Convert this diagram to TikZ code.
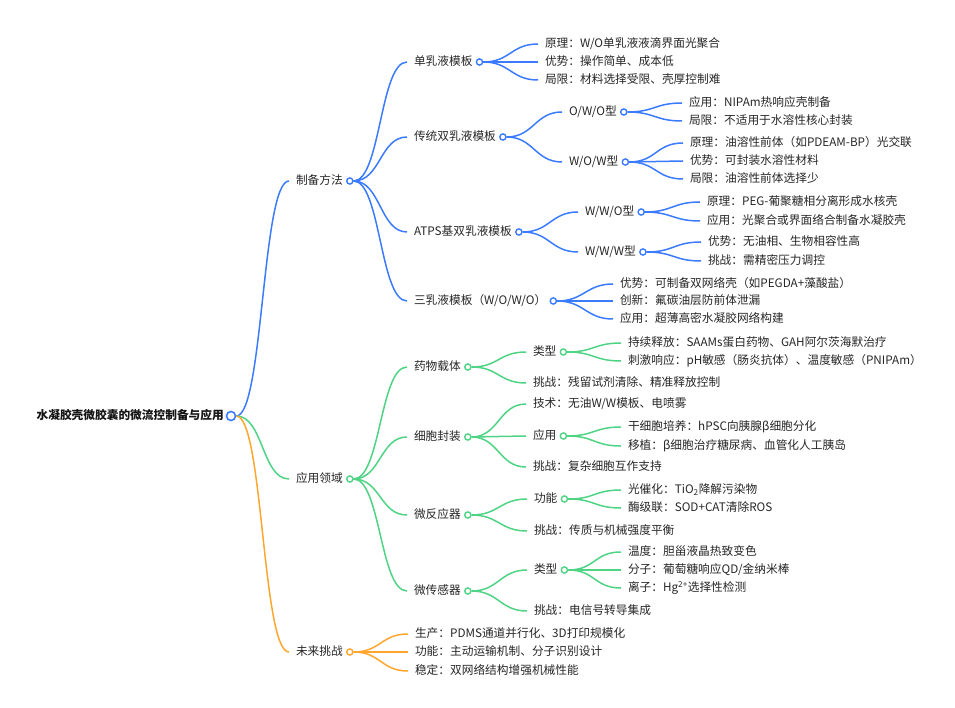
\documentclass[tikz,border=0pt]{standalone}
\usepackage{fontspec}
\setmainfont{Noto Sans CJK SC}
\usetikzlibrary{backgrounds}
\definecolor{cblue}{HTML}{3A7BFF}
\definecolor{cgreen}{HTML}{4FD384}
\definecolor{corange}{HTML}{FFA62E}
\definecolor{ctext}{HTML}{262626}
\begin{document}
\begin{tikzpicture}[x=1pt,y=-1pt,
  lbl/.style={anchor=west, xshift=-7pt, inner xsep=0pt, inner ysep=0pt, outer xsep=7pt, outer ysep=0pt,
    text height=0.88em, text depth=0.12em, font=\fontsize{11.7}{13}\selectfont, text=ctext},
  rootlbl/.style={anchor=east, inner sep=0pt, text height=0.88em, text depth=0.12em,
    font=\fontsize{11.7}{13}\selectfont\bfseries, text=black!92},
  dot/.style={circle, draw=#1, fill=white, line width=1.4pt, minimum size=6.2pt, inner sep=0pt},
  rootdot/.style={circle, draw=cblue, fill=white, line width=1.6pt, minimum size=9pt, inner sep=0pt},
  link/.style={line width=1.5pt, draw=#1, to path={.. controls +(27,0) and +(-27,0) .. (\tikztotarget)}}
]
\useasboundingbox (0,0) rectangle (955,708);
% root
\node[rootdot] (dR) at (231,416) {};
\node[rootlbl] (tR) at (224,416) {水凝胶壳微胶囊的微流控制备与应用};
% level 1
\node[lbl] (tA) at (296,181) {制备方法};
\node[lbl] (tB) at (296,479) {应用领域};
\node[lbl] (tC) at (296,652) {未来挑战};
\node[dot=cblue] (dA) at (tA.east) {};
\node[dot=cgreen] (dB) at (tB.east) {};
\node[dot=corange] (dC) at (tC.east) {};
% ---- 制备方法
\node[lbl] (tA1) at (414,62) {单乳液模板};
\node[lbl] (tA2) at (414,137) {传统双乳液模板};
\node[lbl] (tA3) at (414,232) {ATPS基双乳液模板};
\node[lbl] (tA4) at (414,301) {三乳液模板（W/O/W/O）};
\node[dot=cblue] (dA1) at (tA1.east) {};
\node[dot=cblue] (dA2) at (tA2.east) {};
\node[dot=cblue] (dA3) at (tA3.east) {};
\node[dot=cblue] (dA4) at (tA4.east) {};
\node[lbl] (tA1a) at (545,44) {原理：W/O单乳液液滴界面光聚合};
\node[lbl] (tA1b) at (545,62) {优势：操作简单、成本低};
\node[lbl] (tA1c) at (545,80) {局限：材料选择受限、壳厚控制难};
\node[lbl] (tA2a) at (569,112) {O/W/O型};
\node[lbl] (tA2b) at (569,162) {W/O/W型};
\node[dot=cblue] (dA2a) at (tA2a.east) {};
\node[dot=cblue] (dA2b) at (tA2b.east) {};
\node[lbl] (tA2a1) at (689,103) {应用：NIPAm热响应壳制备};
\node[lbl] (tA2a2) at (689,121) {局限：不适用于水溶性核心封装};
\node[lbl] (tA2b1) at (690,143) {原理：油溶性前体（如PDEAM-BP）光交联};
\node[lbl] (tA2b2) at (690,161) {优势：可封装水溶性材料};
\node[lbl] (tA2b3) at (690,179) {局限：油溶性前体选择少};
\node[lbl] (tA3a) at (585,212) {W/W/O型};
\node[lbl] (tA3b) at (585,252) {W/W/W型};
\node[dot=cblue] (dA3a) at (tA3a.east) {};
\node[dot=cblue] (dA3b) at (tA3b.east) {};
\node[lbl] (tA3a1) at (707,202) {原理：PEG-葡聚糖相分离形成水核壳};
\node[lbl] (tA3a2) at (707,221) {应用：光聚合或界面络合制备水凝胶壳};
\node[lbl] (tA3b1) at (708,242) {优势：无油相、生物相容性高};
\node[lbl] (tA3b2) at (708,261) {挑战：需精密压力调控};
\node[lbl] (tA4a) at (620,284) {优势：可制备双网络壳（如PEGDA+藻酸盐）};
\node[lbl] (tA4b) at (620,301) {创新：氟碳油层防前体泄漏};
\node[lbl] (tA4c) at (620,319) {应用：超薄高密水凝胶网络构建};
% ---- 应用领域
\node[lbl] (tB1) at (414,367) {药物载体};
\node[lbl] (tB2) at (414,437) {细胞封装};
\node[lbl] (tB3) at (414,515) {微反应器};
\node[lbl] (tB4) at (414,591) {微传感器};
\node[dot=cgreen] (dB1) at (tB1.east) {};
\node[dot=cgreen] (dB2) at (tB2.east) {};
\node[dot=cgreen] (dB3) at (tB3.east) {};
\node[dot=cgreen] (dB4) at (tB4.east) {};
\node[lbl] (tB1a) at (533,352) {类型};
\node[lbl] (tB1b) at (533,383) {挑战：残留试剂清除、精准释放控制};
\node[dot=cgreen] (dB1a) at (tB1a.east) {};
\node[lbl] (tB1a1) at (628,343) {持续释放：SAAMs蛋白药物、GAH阿尔茨海默治疗};
\node[lbl] (tB1a2) at (628,361) {刺激响应：pH敏感（肠炎抗体）、温度敏感（PNIPAm）};
\node[lbl] (tB2a) at (533,404) {技术：无油W/W模板、电喷雾};
\node[lbl] (tB2b) at (533,436) {应用};
\node[lbl] (tB2c) at (533,467) {挑战：复杂细胞互作支持};
\node[dot=cgreen] (dB2b) at (tB2b.east) {};
\node[lbl] (tB2b1) at (628,427) {干细胞培养：hPSC向胰腺β细胞分化};
\node[lbl] (tB2b2) at (628,446) {移植：β细胞治疗糖尿病、血管化人工胰岛};
\node[lbl] (tB3a) at (534,499) {功能};
\node[lbl] (tB3b) at (534,531) {挑战：传质与机械强度平衡};
\node[dot=cgreen] (dB3a) at (tB3a.east) {};
\node[lbl] (tB3a1) at (628,490) {光催化：TiO\textsubscript{2}降解污染物};
\node[lbl] (tB3a2) at (628,508) {酶级联：SOD+CAT清除ROS};
\node[lbl] (tB4a) at (534,570) {类型};
\node[lbl] (tB4b) at (534,611) {挑战：电信号转导集成};
\node[dot=cgreen] (dB4a) at (tB4a.east) {};
\node[lbl] (tB4a1) at (628,552) {温度：胆甾液晶热致变色};
\node[lbl] (tB4a2) at (628,570) {分子：葡萄糖响应QD/金纳米棒};
\node[lbl] (tB4a3) at (628,588) {离子：Hg\textsuperscript{2+}选择性检测};
% ---- 未来挑战
\node[lbl] (tC1) at (415,634) {生产：PDMS通道并行化、3D打印规模化};
\node[lbl] (tC2) at (415,652) {功能：主动运输机制、分子识别设计};
\node[lbl] (tC3) at (415,671) {稳定：双网络结构增强机械性能};
% ---- connectors
\begin{pgfonlayer}{background}
\draw[link=cblue] (dR.east) to (tA.west);
\draw[link=cgreen] (dR.east) to (tB.west);
\draw[link=corange] (dR.east) to (tC.west);
\foreach \p/\c in {dA/tA1,dA/tA2,dA/tA3,dA/tA4,
  dA1/tA1a,dA1/tA1b,dA1/tA1c,
  dA2/tA2a,dA2/tA2b,dA2a/tA2a1,dA2a/tA2a2,dA2b/tA2b1,dA2b/tA2b2,dA2b/tA2b3,
  dA3/tA3a,dA3/tA3b,dA3a/tA3a1,dA3a/tA3a2,dA3b/tA3b1,dA3b/tA3b2,
  dA4/tA4a,dA4/tA4b,dA4/tA4c}
  \draw[link=cblue] (\p.east) to (\c.west);
\foreach \p/\c in {dB/tB1,dB/tB2,dB/tB3,dB/tB4,
  dB1/tB1a,dB1/tB1b,dB1a/tB1a1,dB1a/tB1a2,
  dB2/tB2a,dB2/tB2b,dB2/tB2c,dB2b/tB2b1,dB2b/tB2b2,
  dB3/tB3a,dB3/tB3b,dB3a/tB3a1,dB3a/tB3a2,
  dB4/tB4a,dB4/tB4b,dB4a/tB4a1,dB4a/tB4a2,dB4a/tB4a3}
  \draw[link=cgreen] (\p.east) to (\c.west);
\foreach \c in {tC1,tC2,tC3}
  \draw[link=corange] (dC.east) to (\c.west);
\end{pgfonlayer}
\end{tikzpicture}
\end{document}
